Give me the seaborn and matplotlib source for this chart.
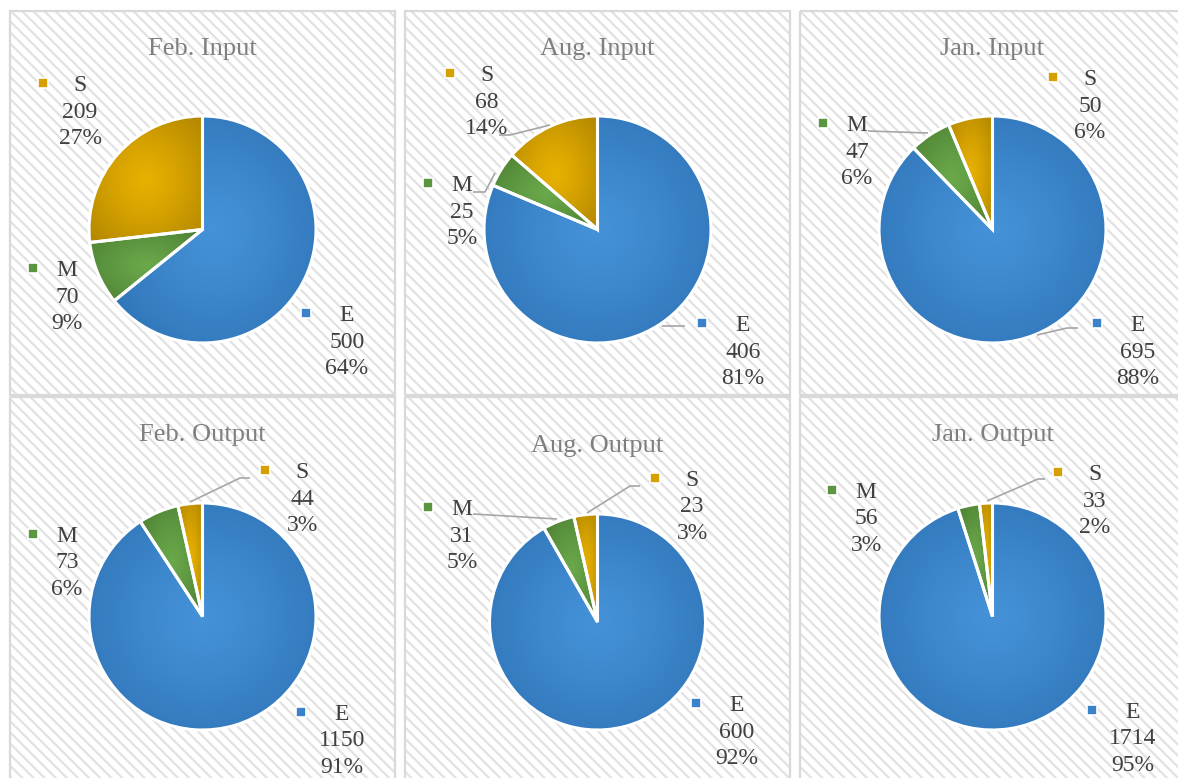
import numpy as np
import matplotlib
matplotlib.use("Agg")
import matplotlib.pyplot as plt
from matplotlib.patches import Rectangle
from matplotlib.colors import to_rgb
import seaborn as sns

# ---- data -------------------------------------------------------------
panel_titles = ["Feb. Input", "Aug. Input", "Jan. Input",
                "Feb. Output", "Aug. Output", "Jan. Output"]
categories = ["E", "M", "S"]
e_counts = [500, 406, 695, 1150, 600, 1714]
m_counts = [70, 25, 47, 73, 31, 56]
s_counts = [209, 68, 50, 44, 23, 33]
e_pct = ["64%", "81%", "88%", "91%", "92%", "95%"]
m_pct = ["9%", "5%", "6%", "6%", "5%", "3%"]
s_pct = ["27%", "14%", "6%", "3%", "3%", "2%"]

# ---- style ------------------------------------------------------------
sns.set_theme(style="white")
plt.rcParams["font.family"] = ["Liberation Serif", "DejaVu Serif"]
plt.rcParams["hatch.linewidth"] = 1.6

base_colors = {"E": "#3a82c9", "M": "#5b9540", "S": "#d6a100"}
center_colors = {"E": "#4592d8", "M": "#6aa84a", "S": "#e8b100"}
edge_colors = {"E": "#2c6fb2", "M": "#4a7c31", "S": "#b08500"}
label_color = "#404040"
title_color = "#7f7f7f"
line_color = "#a6a6a6"

W, H = 1178, 778
fig = plt.figure(figsize=(W / 100, H / 100), dpi=100)
ax = fig.add_axes([0, 0, 1, 1])

# panel frames (pixel layout, y grows downward)
panel_x = [10, 405, 800]
panel_y = [11, 397]
panel_w, panel_h = 385, 384

pie_centers = [(202.5, 229.5), (597.5, 229.5), (992.5, 229.5),
               (202.5, 616.5), (597.5, 622.0), (992.5, 616.5)]
pie_radii = [113.5, 113.5, 113.5, 113.5, 108.0, 113.5]
title_y = [46, 46, 46, 432, 443, 432]

# label block anchors: (x of text centre, y of first line)
label_pos = [
    {"E": (347, 313), "M": (67, 268), "S": (80, 83)},
    {"E": (743, 323), "M": (462, 183), "S": (487, 73)},
    {"E": (1138, 323), "M": (857, 123), "S": (1090, 77)},
    {"E": (342, 712), "M": (67, 534), "S": (302, 470)},
    {"E": (737, 703), "M": (462, 507), "S": (692, 478)},
    {"E": (1133, 710), "M": (866, 490), "S": (1095, 472)},
]
key_offset = {"E": -41, "M": -34, "S": -37}
line_step = 26.5

leaders = [
    [],
    [[(499, 135), (510, 135), (550, 125)],
     [(473, 192), (485, 192), (495, 173)],
     [(662, 326), (685, 326)]],
    [[(868, 131), (928, 133)],
     [(1037, 335), (1067, 328), (1078, 328)]],
    [[(190, 502), (240, 478), (250, 478)]],
    [[(587, 513), (630, 486), (640, 486)],
     [(473, 514), (557, 519)]],
    [[(987, 501), (1038, 479), (1045, 479)]],
]

for r in range(2):
    for c in range(3):
        x0, y0 = panel_x[c], panel_y[r]
        ax.add_patch(Rectangle((x0, y0), panel_w, panel_h, facecolor="white",
                               edgecolor="#e2e2e2", hatch="\\\\\\",
                               linewidth=0, zorder=0))
        ax.add_patch(Rectangle((x0, y0), panel_w, panel_h, fill=False,
                               edgecolor="#d9d9d9", linewidth=1.6, zorder=0.5))


def wedge_gradient(wedge, cat, cx, cy, rad, n=260):
    """Radial shading centred on the wedge's bounding box."""
    verts = wedge.get_path().vertices
    x0, y0 = verts.min(axis=0)
    x1, y1 = verts.max(axis=0)
    gx, gy = (x0 + x1) / 2, (y0 + y1) / 2
    hw, hh = max((x1 - x0) / 2, 1), max((y1 - y0) / 2, 1)
    xs = np.linspace(cx - rad, cx + rad, n)
    ys = np.linspace(cy - rad, cy + rad, n)
    xx, yy = np.meshgrid(xs, ys)
    d = np.sqrt(((xx - gx) / hw) ** 2 + ((yy - gy) / hh) ** 2) / np.sqrt(2)
    d = np.clip(d, 0, 1) ** 1.2
    c0 = np.array(to_rgb(center_colors[cat]))
    c1 = np.array(to_rgb(edge_colors[cat]))
    return c0[None, None, :] * (1 - d[..., None]) + c1[None, None, :] * d[..., None]


for i, title in enumerate(panel_titles):
    vals = [e_counts[i], m_counts[i], s_counts[i]]
    pcts = {"E": e_pct[i], "M": m_pct[i], "S": s_pct[i]}
    counts = dict(zip(categories, vals))
    cx, cy = pie_centers[i]
    rad = pie_radii[i]

    # y axis is inverted, so counterclock=True runs clockwise on screen
    wedges, _ = ax.pie(vals, colors=[base_colors[k] for k in categories],
                       startangle=-90, counterclock=True, center=(cx, cy),
                       radius=rad, frame=True,
                       wedgeprops=dict(linewidth=0, zorder=1))
    for w, cat in zip(wedges, categories):
        img = wedge_gradient(w, cat, cx, cy, rad)
        # row 0 of img is y = cy - rad, which is the visual top here
        im = ax.imshow(img, extent=(cx - rad, cx + rad, cy + rad, cy - rad),
                       origin="upper", zorder=2, interpolation="bilinear",
                       aspect="auto")
        im.set_clip_path(w)
    ax.pie(vals, colors=["none"] * 3, startangle=-90, counterclock=True,
           center=(cx, cy), radius=rad, frame=True,
           wedgeprops=dict(edgecolor="white", linewidth=2.2, zorder=3))

    ax.text(cx, title_y[i] + 8.5, title, ha="center", va="baseline",
            fontsize=19, color=title_color, zorder=5)

    for seg in leaders[i]:
        xs, ys = zip(*seg)
        ax.plot(xs, ys, color=line_color, linewidth=1.2, zorder=4,
                solid_capstyle="butt")

    for cat in categories:
        tx, ty = label_pos[i][cat]
        lines = [cat, str(counts[cat]), pcts[cat]]
        for k, s in enumerate(lines):
            ax.text(tx, ty + 8 + k * line_step, s, ha="center", va="baseline",
                    fontsize=17, color=label_color, zorder=5)
        ax.scatter([tx + key_offset[cat]], [ty], marker="s", s=44,
                   color=base_colors[cat], edgecolors="white", linewidths=1.2,
                   zorder=5)

ax.set_xlim(0, W)
ax.set_ylim(H, 0)
ax.set_aspect("auto")
ax.axis("off")
fig.savefig("out.png", dpi=100, facecolor="white")
